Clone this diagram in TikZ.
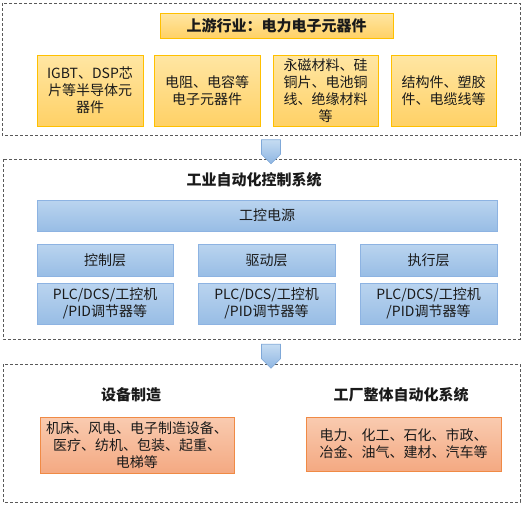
\documentclass[tikz,border=0pt]{standalone}
\usepackage{fontspec}
\setmainfont{Noto Sans CJK SC}
\usetikzlibrary{shapes.arrows}
\definecolor{txt}{HTML}{1A1A1A}
\definecolor{dash}{HTML}{595959}
\definecolor{ytop}{HTML}{FFE6A3}
\definecolor{ybot}{HTML}{FFD166}
\definecolor{ybor}{HTML}{FFC000}
\definecolor{btop}{HTML}{BAD4EF}
\definecolor{bbot}{HTML}{98BDE5}
\definecolor{bbor}{HTML}{8DB3E2}
\definecolor{otop}{HTML}{F9CBB0}
\definecolor{obot}{HTML}{F4A982}
\definecolor{obor}{HTML}{F08A45}
\definecolor{atop}{HTML}{C5DCF2}
\definecolor{abot}{HTML}{8FB6E2}
\definecolor{abor}{HTML}{7FA8D8}
\begin{document}
\begin{tikzpicture}[x=1pt,y=-1pt,
  every node/.style={text=txt,font=\fontsize{14}{17}\selectfont},
  frame/.style={draw=dash,dashed,dash pattern=on 3pt off 2pt,line width=0.9pt},
  ybox/.style={draw=ybor,line width=0.8pt,top color=ytop,bottom color=ybot,align=center,inner sep=0pt},
  bbox/.style={draw=bbor,line width=0.8pt,top color=btop,bottom color=bbot,align=center,inner sep=0pt},
  obox/.style={draw=obor,line width=0.8pt,top color=otop,bottom color=obot,align=center,inner sep=0pt},
  ttl/.style={font=\fontsize{15}{18}\selectfont\bfseries},
  flowarrow/.style={single arrow,draw=abor,line width=0.6pt,top color=atop,bottom color=abot,shading angle=0,
    minimum width=19pt,single arrow head extend=0pt,single arrow tip angle=90,inner sep=0pt,
    minimum height=24pt,shape border rotate=270}
]
\useasboundingbox (0,0) rectangle (528,504);
% frames
\draw[frame] (2,3) rectangle (520,135);
\draw[frame] (3,159) rectangle (520,339);
\draw[frame] (3,364) rectangle (520,502);
% top section
\path[ybox] (160,13) rectangle (393,38);
\node[ttl] (t1) at (276.5,25.5) {上游行业：电力电子元器件};
\path[ybox] (37,55) rectangle (143,126);
\node (y1) at (90,90.5) [align=center] {IGBT、DSP芯\\片等半导体元\\器件};
\path[ybox] (154,55) rectangle (260,126);
\node (y2) at (207,90.5) [align=center] {电阻、电容等\\电子元器件};
\path[ybox] (273,55) rectangle (378,126);
\node (y3) at (325.5,90.5) [align=center] {永磁材料、硅\\铜片、电池铜\\线、绝缘材料\\等};
\path[ybox] (391,55) rectangle (496,126);
\node (y4) at (443.5,90.5) [align=center] {结构件、塑胶\\件、电缆线等};
% arrow 1
\node[flowarrow] (a1) at (271,147) {};
% middle section
\node[ttl] (t2) at (254,180) {工业自动化控制系统};
\path[bbox] (37,200) rectangle (497,231);
\node (pw) at (267,215.5) {工控电源};
\path[bbox] (37,244) rectangle (173,276);
\node (l1) at (105,260) {控制层};
\path[bbox] (198,244) rectangle (335,276);
\node (l2) at (266.5,260) {驱动层};
\path[bbox] (360,244) rectangle (497,276);
\node (l3) at (428.5,260) {执行层};
\path[bbox] (37,283) rectangle (173,324);
\node (p1) at (105,303.5) [align=center] {PLC/DCS/工控机\\/PID调节器等};
\path[bbox] (198,283) rectangle (335,324);
\node (p2) at (266.5,303.5) [align=center] {PLC/DCS/工控机\\/PID调节器等};
\path[bbox] (360,283) rectangle (497,324);
\node (p3) at (428.5,303.5) [align=center] {PLC/DCS/工控机\\/PID调节器等};
% arrow 2
\node[flowarrow] (a2) at (271,351.5) {};
% bottom section
\node[ttl] (t3) at (131,395) {设备制造};
\node[ttl] (t4) at (401,395) {工厂整体自动化系统};
\path[obox] (40,417) rectangle (234,473);
\node (o1) at (137,445) [align=center] {机床、风电、电子制造设备、\\医疗、纺机、包装、起重、\\电梯等};
\path[obox] (306,417) rectangle (501,471);
\node (o2) at (403.5,444) [align=center] {电力、化工、石化、市政、\\冶金、油气、建材、汽车等};
\end{tikzpicture}
\end{document}
